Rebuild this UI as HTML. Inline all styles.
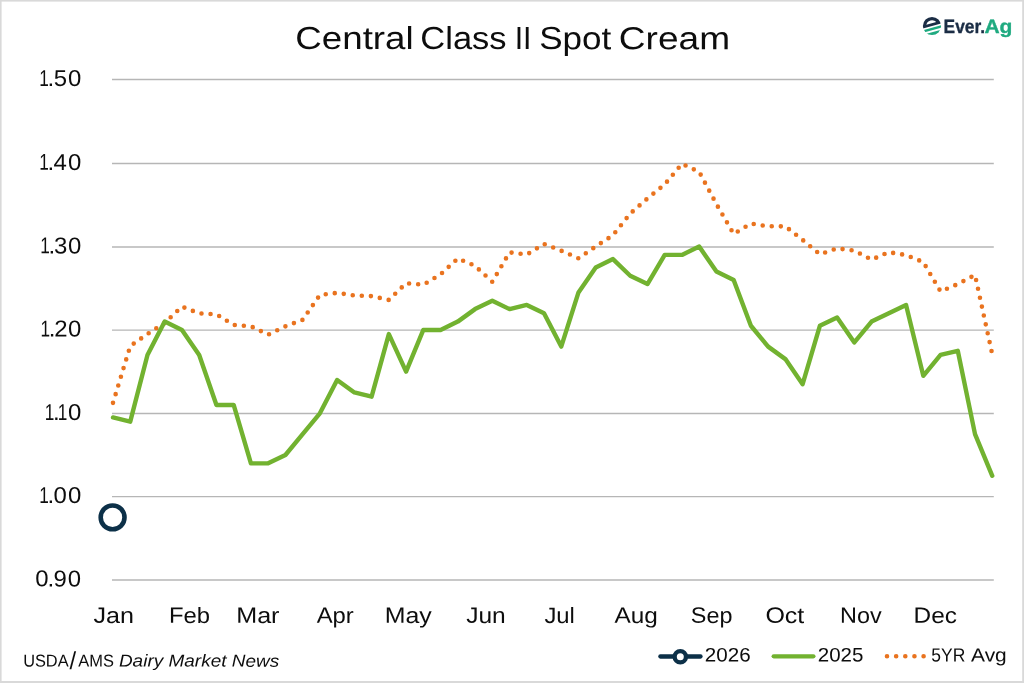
<!DOCTYPE html>
<html><head><meta charset="utf-8"><title>Central Class II Spot Cream</title>
<style>
html,body{margin:0;padding:0;background:#fff;}
body{width:1024px;height:683px;overflow:hidden;font-family:"Liberation Sans",sans-serif;}
svg{display:block;will-change:transform;}
text{font-family:"Liberation Sans",sans-serif;fill:#0d0d0d;text-rendering:geometricPrecision;}
</style></head><body>
<svg width="1024" height="683" viewBox="0 0 1024 683">
<rect x="0" y="0" width="1024" height="683" fill="#ffffff"/>
<!-- frame -->
<rect x="0" y="0" width="1024" height="1.6" fill="#d9d9d9"/>
<rect x="0" y="0" width="1.6" height="683" fill="#d9d9d9"/>
<rect x="1022.2" y="0" width="1.8" height="683" fill="#d9d9d9"/>
<rect x="0" y="681" width="1024" height="2" fill="#d9d9d9"/>
<!-- gridlines -->
<g stroke="#b6b6b6" stroke-width="1.3" fill="none">
<line x1="112" y1="79.50" x2="993.8" y2="79.50"/>
<line x1="112" y1="163.50" x2="993.8" y2="163.50"/>
<line x1="112" y1="247.00" x2="993.8" y2="247.00"/>
<line x1="112" y1="330.15" x2="993.8" y2="330.15"/>
<line x1="112" y1="413.50" x2="993.8" y2="413.50"/>
<line x1="112" y1="496.60" x2="993.8" y2="496.60"/>
<line x1="112" y1="580.00" x2="993.8" y2="580.00"/>
</g>
<polyline points="113.00,402.87 130.24,346.07 147.48,333.96 164.72,322.91 181.96,306.63 199.20,313.41 216.44,314.26 233.68,324.93 250.92,326.27 268.17,334.67 285.41,326.33 302.65,319.80 319.89,294.99 337.13,292.86 354.37,295.48 371.61,296.11 388.85,299.94 406.09,283.18 423.33,284.68 440.57,274.40 457.81,258.44 475.05,265.86 492.29,281.82 509.53,252.33 526.77,254.60 544.01,243.95 561.25,250.71 578.49,258.28 595.73,246.46 612.97,235.22 630.21,213.57 647.46,198.43 664.70,184.41 681.94,163.79 699.18,171.85 716.42,204.08 733.66,233.97 750.90,223.61 768.14,226.28 785.38,226.36 802.62,239.90 819.86,254.33 837.10,248.38 854.34,250.62 871.58,259.67 888.82,252.16 906.06,255.09 923.30,262.09 940.54,291.46 957.78,284.05 975.02,274.99 992.26,354.32" fill="none" stroke="#e9731f" stroke-width="4.6" stroke-linecap="round" stroke-linejoin="round" stroke-dasharray="0 9.089"/>
<polyline points="113.00,417.48 130.24,421.65 147.48,354.95 164.72,321.60 181.96,329.94 199.20,354.95 216.44,404.97 233.68,404.97 250.92,463.33 268.17,463.33 285.41,454.99 302.65,434.15 319.89,413.31 337.13,379.96 354.37,392.47 371.61,396.64 388.85,334.11 406.09,371.62 423.33,329.94 440.57,329.94 457.81,321.60 475.05,309.10 492.29,300.76 509.53,309.10 526.77,304.93 544.01,313.27 561.25,346.61 578.49,292.42 595.73,267.41 612.97,259.08 630.21,275.75 647.46,284.09 664.70,254.91 681.94,254.91 699.18,246.57 716.42,271.58 733.66,279.92 750.90,325.77 768.14,346.61 785.38,359.12 802.62,384.13 819.86,325.77 837.10,317.43 854.34,342.45 871.58,321.60 888.82,313.27 906.06,304.93 923.30,375.79 940.54,354.95 957.78,350.78 975.02,434.15 992.26,475.84" fill="none" stroke="#72b230" stroke-width="4.4" stroke-linecap="round" stroke-linejoin="round"/>
<circle cx="112.6" cy="517.4" r="11.9" fill="#ffffff" stroke="#0c3048" stroke-width="4.6"/>
<line x1="660.4" y1="656.5" x2="700.5" y2="656.5" stroke="#0c3048" stroke-width="4.3" stroke-linecap="round"/>
<circle cx="680.3" cy="656.8" r="5.65" fill="#ffffff" stroke="#0c3048" stroke-width="4.3"/>
<line x1="773.7" y1="656.3" x2="813.4" y2="656.3" stroke="#72b230" stroke-width="4.3" stroke-linecap="round"/>
<line x1="887" y1="656.3" x2="925" y2="656.3" stroke="#e9731f" stroke-width="4.6" stroke-linecap="round" stroke-dasharray="0 9.15"/>
<g transform="translate(932,26)">
<defs><clipPath id="lc"><circle cx="0" cy="0" r="9.1"/></clipPath></defs>
<g clip-path="url(#lc)"><g transform="rotate(-15.4)">
<path fill="#1b2d45" fill-rule="evenodd" d="M-12,-12H12V0.05H-12Z M-5.2,-2.6 A5.8,5.8 0 0 1 5.2,-2.6Z"/>
<rect x="-12" y="1.75" width="24" height="2.35" fill="#1faa80"/>
<rect x="-12" y="6.0" width="24" height="6" fill="#1faa80"/>
</g></g></g>
<text transform="scale(1.04 1) rotate(0.05 57.7 86.0)" y="86.0" font-size="23.0"><tspan x="37.76" textLength="9.209" lengthAdjust="spacingAndGlyphs">1</tspan><tspan x="45.68">.</tspan><tspan x="51.6">5</tspan><tspan x="65.3">0</tspan></text>
<text transform="scale(1.04 1) rotate(0.05 57.7 169.9)" y="169.9" font-size="23.0"><tspan x="37.76" textLength="9.209" lengthAdjust="spacingAndGlyphs">1</tspan><tspan x="45.68">.</tspan><tspan x="51.37">4</tspan><tspan x="65.3">0</tspan></text>
<text transform="scale(1.04 1) rotate(0.05 57.7 253.4)" y="253.4" font-size="23.0"><tspan x="38.72" textLength="9.209" lengthAdjust="spacingAndGlyphs">1</tspan><tspan x="46.65">.</tspan><tspan x="51.99">3</tspan><tspan x="65.3">0</tspan></text>
<text transform="scale(1.04 1) rotate(0.05 57.7 336.5)" y="336.5" font-size="23.0"><tspan x="39.01" textLength="9.209" lengthAdjust="spacingAndGlyphs">1</tspan><tspan x="46.93">.</tspan><tspan x="52.18">2</tspan><tspan x="65.3">0</tspan></text>
<text transform="scale(1.04 1) rotate(0.05 57.7 419.9)" y="419.9" font-size="23.0"><tspan x="43.06" textLength="9.209" lengthAdjust="spacingAndGlyphs">1</tspan><tspan x="50.98">.</tspan><tspan x="55.63" textLength="9.209" lengthAdjust="spacingAndGlyphs">1</tspan><tspan x="65.3">0</tspan></text>
<text transform="scale(1.04 1) rotate(0.05 57.7 503.1)" y="503.1" font-size="23.0"><tspan x="37.85" textLength="9.209" lengthAdjust="spacingAndGlyphs">1</tspan><tspan x="45.78">.</tspan><tspan x="51.45">0</tspan><tspan x="65.3">0</tspan></text>
<text transform="scale(1.04 1) rotate(0.05 57.7 586.4)" y="586.4" font-size="23.0"><tspan x="33.86">0</tspan><tspan x="45.68">.</tspan><tspan x="51.45">9</tspan><tspan x="65.25">0</tspan></text>
<text transform="rotate(0.05 512.7 49.1)"><tspan x="295.37" y="49.1" font-size="31.9" textLength="118.27" lengthAdjust="spacingAndGlyphs">Central</tspan> <tspan x="420.38" y="49.1" font-size="31.9" textLength="86.22" lengthAdjust="spacingAndGlyphs">Class</tspan> <tspan x="514.68" y="49.1" font-size="31.9" textLength="16.82" lengthAdjust="spacingAndGlyphs">II</tspan> <tspan x="539.15" y="49.1" font-size="31.9" textLength="72.1" lengthAdjust="spacingAndGlyphs">Spot</tspan> <tspan x="618.85" y="49.1" font-size="31.9" textLength="111.17" lengthAdjust="spacingAndGlyphs">Cream</tspan></text>
<text transform="rotate(0.05 68.6 666.6)"><tspan x="23.14" y="666.6" font-size="17.2" textLength="45.43" lengthAdjust="spacingAndGlyphs">USDA</tspan><tspan x="69.6" y="669.0" font-size="24.5" textLength="6.59" lengthAdjust="spacingAndGlyphs">/</tspan><tspan x="78.35" y="666.6" font-size="17.2" textLength="35.62" lengthAdjust="spacingAndGlyphs">AMS</tspan></text>
<text transform="rotate(0.05 969.0 661.5)"><tspan x="931.3" y="661.5" font-size="19.0" textLength="33.96" lengthAdjust="spacingAndGlyphs">5YR</tspan> <tspan x="971.1" y="661.5" font-size="19.0" textLength="35.66" lengthAdjust="spacingAndGlyphs">Avg</tspan></text>
<text x="93.5" y="622.9" font-size="22.2" textLength="40.47" lengthAdjust="spacingAndGlyphs" transform="rotate(0.05 113.7 622.9)" >Jan</text>
<text x="168.9" y="622.9" font-size="22.2" textLength="41.04" lengthAdjust="spacingAndGlyphs" transform="rotate(0.05 189.4 622.9)" >Feb</text>
<text x="236.19" y="622.9" font-size="22.2" textLength="43.32" lengthAdjust="spacingAndGlyphs" transform="rotate(0.05 257.9 622.9)" >Mar</text>
<text x="316.7" y="622.9" font-size="22.2" textLength="37.09" lengthAdjust="spacingAndGlyphs" transform="rotate(0.05 335.2 622.9)" >Apr</text>
<text x="384.71" y="622.9" font-size="22.2" textLength="47.02" lengthAdjust="spacingAndGlyphs" transform="rotate(0.05 408.2 622.9)" >May</text>
<text x="466.21" y="622.9" font-size="22.2" textLength="39.52" lengthAdjust="spacingAndGlyphs" transform="rotate(0.05 486.0 622.9)" >Jun</text>
<text x="544.42" y="622.9" font-size="22.2" textLength="30.51" lengthAdjust="spacingAndGlyphs" transform="rotate(0.05 559.7 622.9)" >Jul</text>
<text x="614.6" y="622.9" font-size="22.2" textLength="43.29" lengthAdjust="spacingAndGlyphs" transform="rotate(0.05 636.2 622.9)" >Aug</text>
<text x="690.83" y="622.9" font-size="22.2" textLength="41.59" lengthAdjust="spacingAndGlyphs" transform="rotate(0.05 711.6 622.9)" >Sep</text>
<text x="765.45" y="622.9" font-size="22.2" textLength="38.89" lengthAdjust="spacingAndGlyphs" transform="rotate(0.05 784.9 622.9)" >Oct</text>
<text x="840.13" y="622.9" font-size="22.2" textLength="41.57" lengthAdjust="spacingAndGlyphs" transform="rotate(0.05 860.9 622.9)" >Nov</text>
<text x="913.55" y="622.9" font-size="22.2" textLength="43.34" lengthAdjust="spacingAndGlyphs" transform="rotate(0.05 935.2 622.9)" >Dec</text>
<text x="118.93" y="666.6" font-size="17.2" textLength="160.26" lengthAdjust="spacingAndGlyphs" transform="rotate(0.05 199.1 666.6)" font-style="italic">Dairy Market News</text>
<text x="704.87" y="661.5" font-size="19.5" textLength="45.85" lengthAdjust="spacingAndGlyphs" transform="rotate(0.05 727.8 661.5)" >2026</text>
<text x="817.77" y="661.5" font-size="19.5" textLength="45.64" lengthAdjust="spacingAndGlyphs" transform="rotate(0.05 840.6 661.5)" >2025</text>
<text x="943.59" y="33.0" font-size="19.3" textLength="41.45" lengthAdjust="spacingAndGlyphs" transform="rotate(0.05 964.3 33.0)" font-weight="bold" style="fill:#1b2d45;stroke:#1b2d45;stroke-width:0.35">Ever.</text>
<text x="984.47" y="33.0" font-size="19.3" textLength="27.96" lengthAdjust="spacingAndGlyphs" transform="rotate(0.05 998.5 33.0)" font-weight="bold" style="fill:#1faa80;stroke:#1faa80;stroke-width:0.35">Ag</text>
</svg></body></html>
